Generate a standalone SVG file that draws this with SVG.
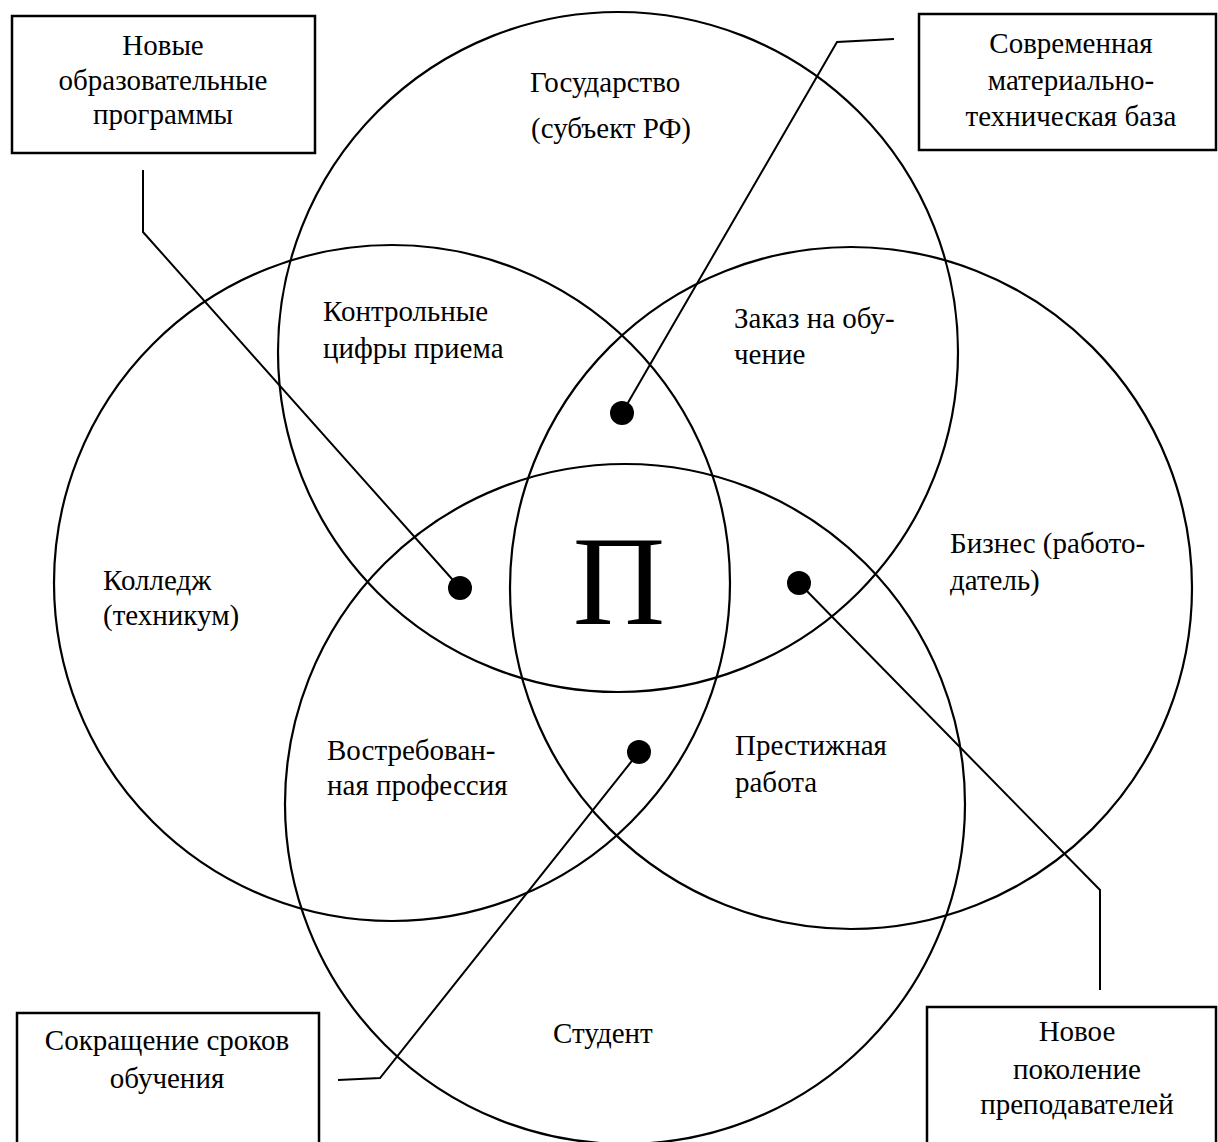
<svg xmlns="http://www.w3.org/2000/svg" width="1218" height="1142" viewBox="0 0 1218 1142">
<style>
.c{fill:none;stroke:#000;stroke-width:2.2}
.b{fill:#fff;stroke:#000;stroke-width:2.5}
.l{fill:none;stroke:#000;stroke-width:2}
.d{fill:#000}
text{font-family:"Liberation Serif","Times New Roman",serif;font-size:29px;fill:#000}
.m{text-anchor:middle}
</style>
<rect width="1218" height="1142" fill="#fff"/>
<g id="circle-state"><circle class="c" cx="618" cy="352" r="340"/></g>
<g id="circle-college"><circle class="c" cx="392" cy="583" r="338"/></g>
<g id="circle-business"><circle class="c" cx="851" cy="588" r="341"/></g>
<g id="circle-student"><circle class="c" cx="625" cy="804" r="340"/></g>
<g id="labels">
<text x="530" y="92">Государство</text>
<text x="531" y="138">(субъект РФ)</text>
<text x="323" y="321">Контрольные</text>
<text x="323" y="358">цифры приема</text>
<text x="734" y="328">Заказ на обу-</text>
<text x="734" y="364">чение</text>
<text x="103" y="590">Колледж</text>
<text x="103" y="625">(техникум)</text>
<text x="950" y="553">Бизнес (работо-</text>
<text x="950" y="590">датель)</text>
<text x="327" y="760">Востребован-</text>
<text x="327" y="795">ная профессия</text>
<text x="735" y="755">Престижная</text>
<text x="735" y="792">работа</text>
<text x="553" y="1043">Студент</text>
<text x="619" y="624" class="m" style="font-size:128px">П</text>
</g>
<g id="connectors">
<polyline class="l" points="143,170 143,232 460,588"/>
<polyline class="l" points="894,39 837,42 622,413"/>
<polyline class="l" points="338,1080 380,1078 639,752"/>
<polyline class="l" points="799,583 1100,890 1100,990"/>
<circle class="d" cx="460" cy="588" r="12"/>
<circle class="d" cx="622" cy="413" r="12"/>
<circle class="d" cx="639" cy="752" r="12"/>
<circle class="d" cx="799" cy="583" r="12"/>
</g>
<g id="box-programs">
<rect class="b" x="12" y="16" width="303" height="137"/>
<text class="m" x="163" y="55">Новые</text>
<text class="m" x="163" y="90">образовательные</text>
<text class="m" x="163" y="124">программы</text>
</g>
<g id="box-base">
<rect class="b" x="919" y="14" width="297" height="136"/>
<text class="m" x="1071" y="53">Современная</text>
<text class="m" x="1071" y="90">материально-</text>
<text class="m" x="1071" y="126">техническая база</text>
</g>
<g id="box-terms">
<rect class="b" x="17" y="1013" width="302" height="140"/>
<text class="m" x="167" y="1050">Сокращение сроков</text>
<text class="m" x="167" y="1088">обучения</text>
</g>
<g id="box-teachers">
<rect class="b" x="927" y="1007" width="289" height="146"/>
<text class="m" x="1077" y="1041">Новое</text>
<text class="m" x="1077" y="1079">поколение</text>
<text class="m" x="1077" y="1114">преподавателей</text>
</g>
</svg>
